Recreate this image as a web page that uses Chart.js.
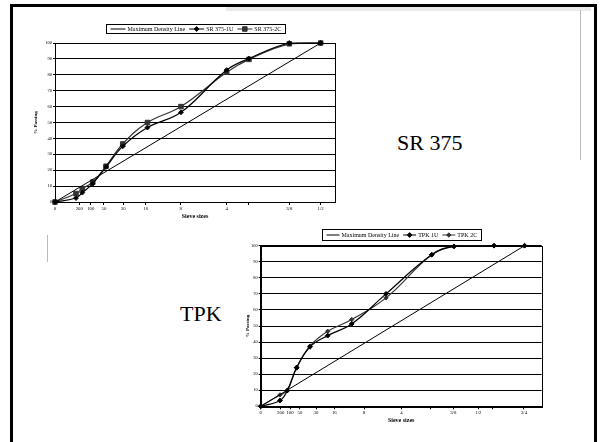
<!DOCTYPE html>
<html>
<head>
<meta charset="utf-8">
<script src="https://cdn.jsdelivr.net/npm/chart.js@4.4.1/dist/chart.umd.min.js"></script>
<style>
  html, body { margin: 0; padding: 0; background: #fff; overflow: hidden; }
  #slide { position: relative; width: 606px; height: 442px; overflow: hidden; }
  #frame { position: absolute; left: 10px; top: 4px; width: 581px; height: 470px;
           border: 3px solid #000; border-bottom: none; }
  #band { position: absolute; left: 226px; top: 7px; width: 365px; height: 4px; background: #e9e9e9; }
  .rule { position: absolute; width: 1px; background: #bbb; }
  .big { position: absolute; font-family: "Liberation Serif", serif; font-size: 22px; color: #000; line-height: 1; }
  canvas { position: absolute; left: 0; top: 0; }
</style>
</head>
<body>
<div id="slide">
  <div id="frame"></div>
  <div id="band"></div>
  <div class="rule" style="left:580px; top:10px; height:150px;"></div>
  <div class="rule" style="left:47px; top:235px; height:27px;"></div>
  <div class="big" style="left:397px; top:132px;">SR 375</div>
  <div class="big" style="left:180px; top:303px;">TPK</div>
  <canvas id="srChart" width="606" height="442"></canvas>
  <canvas id="tpkChart" width="606" height="442"></canvas>
</div>
<script>
// x values are positions on the 0.45-power sieve axis
const srTickPos = [0, 0.285, 0.419, 0.574, 0.80, 1.063, 1.474, 2.013, 2.266, 2.747, 3.115];
const srTickLabels = ["0", "200", "100", "50", "30", "16", "8", "4", "", "3/8", "1/2"];
const srX = [0, 0.246, 0.32, 0.442, 0.598, 0.794, 1.084, 1.477, 2.013, 2.274, 2.747, 3.115];
const sr1U = [0, 2.5, 5.9, 11.5, 22, 35, 46.8, 56.4, 83, 90.2, 100, 100];
const sr2C = [0, 5.3, 8.4, 12.5, 22.5, 36.5, 50, 60, 81.6, 89.7, 99.5, 100];
const srMdlX = [0, 3.115];
const srMdl = [0, 100];

const tpkTickPos = [0, 0.286, 0.419, 0.561, 0.79, 1.051, 1.476, 2.009, 2.419, 2.751, 3.109, 3.314, 3.761];
const tpkTickLabels = ["0", "200", "100", "50", "30", "16", "8", "4", "", "3/8", "1/2", "", "3/4"];
const tpkX = [0, 0.276, 0.38, 0.514, 0.704, 0.957, 1.30, 1.79, 2.443, 2.761, 3.333, 3.769];
const tpk1U = [0, 3.6, 9.8, 24, 37, 44, 51.3, 70, 94.4, 99.6, 100, 100];
const tpk2C = [0, 7.1, 9.8, 24.3, 37.5, 46.7, 54, 67.5, 94.4, 99.6, 100, 100];
const tpkMdlX = [0, 3.769];
const tpkMdl = [0, 100];

const SERIF = '"Liberation Serif", "Times New Roman", serif';

function pts(xs, ys) {
  return xs.map((x, i) => ({ x: x, y: ys[i] }));
}

// black box round the plot area
const plotBox = {
  id: "plotBox",
  afterDraw(chart) {
    const a = chart.chartArea;
    const ctx = chart.ctx;
    ctx.save();
    ctx.strokeStyle = "#000";
    ctx.lineWidth = 1;
    ctx.strokeRect(Math.round(a.left) + 0.5, Math.round(a.top) + 0.5,
                   Math.round(a.right - a.left), Math.round(a.bottom - a.top));
    ctx.restore();
  }
};

// excel style legend: one bordered box, line sample + marker + text
const boxLegend = {
  id: "boxLegend",
  afterDraw(chart, args, opts) {
    const ctx = chart.ctx;
    ctx.save();
    ctx.font = opts.size + "px " + SERIF;
    const items = chart.data.datasets.map(ds => ({
      ds: ds,
      w: opts.sample + 2 + ctx.measureText(ds.label).width
    }));
    const total = items.reduce((s, it) => s + it.w, 0) + opts.gap * (items.length - 1) + opts.padX * 2;
    const cx = (chart.chartArea.left + chart.chartArea.right) / 2;
    let x = Math.round(cx - total / 2) + 0.5;
    const y = opts.top + 0.5;
    ctx.strokeStyle = "#000";
    ctx.lineWidth = 1;
    ctx.strokeRect(x, y, Math.round(total), opts.height);
    const cy = opts.top + opts.height / 2 + 0.5;
    x += opts.padX;
    items.forEach(it => {
      const ds = it.ds;
      ctx.strokeStyle = ds.borderColor;
      ctx.lineWidth = 1;
      ctx.beginPath();
      ctx.moveTo(x, cy);
      ctx.lineTo(x + opts.sample, cy);
      ctx.stroke();
      if (ds.pointRadius > 0) {
        ctx.fillStyle = ds.pointBackgroundColor;
        ctx.strokeStyle = ds.borderColor;
        Chart.helpers.drawPoint(ctx, { pointStyle: ds.pointStyle, radius: ds.pointRadius, borderWidth: 1, rotation: 0 },
                                x + opts.sample / 2, cy);
      }
      ctx.fillStyle = "#000";
      ctx.textBaseline = "middle";
      ctx.textAlign = "left";
      ctx.fillText(ds.label, x + opts.sample + 2, cy + 0.5);
      x += it.w + opts.gap;
    });
    ctx.restore();
  }
};

function makeChart(id, cfg) {
  return new Chart(document.getElementById(id), {
    type: "line",
    data: {
      datasets: [
        { label: "Maximum Density Line", data: pts(cfg.mdlX, cfg.mdl), borderColor: "#000",
          borderWidth: 1, pointRadius: 0, tension: 0 },
        { label: cfg.names[0], data: pts(cfg.x, cfg.s1), borderColor: "#000", backgroundColor: "#000",
          pointBackgroundColor: "#000", borderWidth: 1.2, pointStyle: "rectRot", pointRadius: 2.4,
          pointBorderWidth: 1, tension: 0.4, clip: false },
        { label: cfg.names[1], data: pts(cfg.x, cfg.s2), borderColor: "#333", backgroundColor: "#333",
          pointBackgroundColor: "#333", borderWidth: 1.2, pointStyle: cfg.style2, pointRadius: cfg.r2,
          pointBorderWidth: 1, tension: 0.4, clip: false }
      ]
    },
    options: {
      responsive: false,
      animation: false,
      devicePixelRatio: 1,
      layout: { padding: cfg.pad },
      plugins: {
        legend: { display: false },
        tooltip: { enabled: false },
        boxLegend: cfg.legend
      },
      scales: {
        x: {
          type: "linear",
          min: 0,
          max: cfg.xMax,
          afterBuildTicks: s => { s.ticks = cfg.tickPos.map(v => ({ value: v })); },
          afterFit: s => { s.height = cfg.xH; },
          ticks: {
            autoSkip: false, maxRotation: 0, padding: 1, color: "#000",
            font: { family: SERIF, size: 4.8 },
            callback: (v, i) => cfg.tickLabels[i]
          },
          grid: { drawOnChartArea: false, drawTicks: true, tickLength: 3, color: "#000" },
          border: { color: "#000", width: 1 },
          title: { display: true, text: "Sieve sizes", color: "#000", padding: 0,
                   font: { family: SERIF, size: 6, weight: "bold" } }
        },
        y: {
          min: 0,
          max: 100,
          afterFit: s => { s.width = cfg.yW; },
          ticks: { stepSize: 10, padding: 1, color: "#000", font: { family: SERIF, size: 4.5 } },
          grid: { color: "#000", lineWidth: 1, tickLength: 2 },
          border: { color: "#000", width: 1 },
          title: { display: true, text: "% Passing", color: "#000", padding: 0,
                   font: { family: SERIF, size: 5, weight: "bold" } }
        }
      }
    },
    plugins: [plotBox, boxLegend]
  });
}

makeChart("srChart", {
  names: ["SR 375-1U", "SR 375-2C"],
  x: srX, s1: sr1U, s2: sr2C, mdlX: srMdlX, mdl: srMdl,
  tickPos: srTickPos, tickLabels: srTickLabels,
  style2: "rect", r2: 3.2,
  xMax: 3.283,
  yW: 22, xH: 18,
  pad: { left: 33, right: 271, top: 43, bottom: 222 },
  legend: { top: 24, height: 9, size: 6, sample: 15, gap: 4, padX: 4 }
});

makeChart("tpkChart", {
  names: ["TPK 1U", "TPK 2C"],
  x: tpkX, s1: tpk1U, s2: tpk2C, mdlX: tpkMdlX, mdl: tpkMdl,
  tickPos: tpkTickPos, tickLabels: tpkTickLabels,
  style2: "rectRot", r2: 2.2,
  xMax: 4.014,
  yW: 16, xH: 17.3,
  pad: { left: 244.7, right: 64.3, top: 245.7, bottom: 18.4 },
  legend: { top: 229, height: 11, size: 6, sample: 13, gap: 4, padX: 4 }
});
</script>
</body>
</html>
